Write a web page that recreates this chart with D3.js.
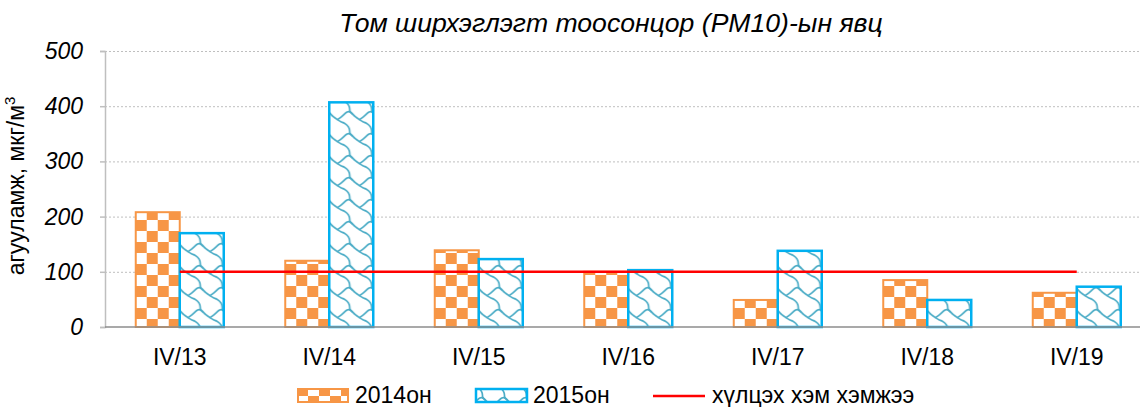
<html lang="mn">
<head>
<meta charset="UTF-8">
<title>PM10</title>
<style>
  body { margin: 0; background: #fff; }
  text { font-family: "Liberation Sans", Arial, sans-serif; fill: #000; }
  .grid { stroke: #bfbfbf; stroke-width: 1px; stroke-dasharray: 2 2; }
  .tick-label { font-style: italic; font-size: 23px; text-anchor: end; }
  .cat-label { font-size: 23px; text-anchor: middle; }
  .legend text { font-size: 23px; }
</style>
</head>
<body>
<script src="https://cdnjs.cloudflare.com/ajax/libs/d3/7.8.5/d3.min.js"></script>
<script>

var categories = ["IV/13", "IV/14", "IV/15", "IV/16", "IV/17", "IV/18", "IV/19"];
var series = ["2014он", "2015он"];
var values2014 = [208, 120, 139, 100, 49, 85, 62];
var values2015 = [170, 407, 123, 103, 138, 49, 73];
var limitValue = 100;
var limitLabel = "хүлцэх хэм хэмжээ";
var yTicks = [0, 100, 200, 300, 400, 500];
var title = "Том ширхэглэгт тоосонцор (PM10)-ын явц";
var yLabel = "агууламж, мкг/м";

var width = 1144, height = 407;
var plotLeft = 105, plotRight = 1140, plotTop = 51, plotBottom = 327;
var step = 149.5;

var svg = d3.select("body").append("svg")
  .attr("width", width)
  .attr("height", height);

var defs = svg.append("defs");

// large checkerboard (8x8 cell pattern scaled up), 2014
var cell = 2.75;
var chk = defs.append("pattern")
  .attr("id", "checker")
  .attr("patternUnits", "userSpaceOnUse")
  .attr("width", 8 * cell).attr("height", 8 * cell);
chk.append("rect").attr("width", 8 * cell).attr("height", 8 * cell).attr("fill", "#fff");
chk.append("rect").attr("width", 4 * cell).attr("height", 4 * cell).attr("fill", "#f79646");
chk.append("rect").attr("x", 4 * cell).attr("y", 4 * cell)
  .attr("width", 4 * cell).attr("height", 4 * cell).attr("fill", "#f79646");

// shingle pattern, 2015
var sh = defs.append("pattern")
  .attr("id", "shingle")
  .attr("patternUnits", "userSpaceOnUse")
  .attr("width", 8 * cell).attr("height", 8 * cell);
sh.append("rect").attr("width", 8 * cell).attr("height", 8 * cell).attr("fill", "#fff");

var shingleA = [[-0.5, 0.5], [0.5, 1.5], [1.5, 2.5], [3, 3.5], [4.5, 4.5], [5.5, 4.7], [6.5, 5.5], [7.4, 6.6], [7.5, 8.5]];
var shingleB = [[3, 3.5], [4.5, 2.5], [5.5, 1.5], [6.5, 0.6], [7.5, 0.5], [8.5, 1.5]];
var shLine = d3.line()
  .x(function(p){ return p[0] * cell; })
  .y(function(p){ return p[1] * cell; })
  .curve(d3.curveBasis);
[-8, 0, 8].forEach(function(dx){
  [-8, 0, 8].forEach(function(dy){
    [shingleA, shingleB].forEach(function(pts){
      sh.append("path")
        .attr("d", shLine(pts.map(function(p){ return [p[0] + dx, p[1] + dy]; })))
        .attr("fill", "none")
        .attr("stroke", "#4bacc6")
        .attr("stroke-width", 1.7)
        .attr("stroke-linecap", "round");
    });
  });
});

var x = d3.scaleBand()
  .domain(categories)
  .range([plotLeft, plotLeft + step * categories.length])
  .paddingInner(61.5 / step)
  .paddingOuter(30.75 / step);

var xs = d3.scaleBand()
  .domain(series)
  .range([0, x.bandwidth()]);

var y = d3.scaleLinear()
  .domain([0, 500])
  .range([plotBottom, plotTop]);

// grid lines
svg.append("g").selectAll("line")
  .data(yTicks.slice(1))
  .enter().append("line")
  .attr("class", "grid")
  .attr("x1", plotLeft).attr("x2", plotRight)
  .attr("y1", function(d){ return y(d) + 0.5; })
  .attr("y2", function(d){ return y(d) + 0.5; });

// y axis
var yAxis = svg.append("g")
  .attr("transform", "translate(" + plotLeft + ",0)")
  .call(d3.axisLeft(y).tickValues(yTicks).tickSize(5).tickFormat(""));
yAxis.select(".domain").attr("stroke", "#bfbfbf").attr("stroke-width", 1.5);
yAxis.selectAll(".tick line").attr("stroke", "#bfbfbf").attr("stroke-width", 1.5);

svg.append("g").selectAll("text")
  .data(yTicks)
  .enter().append("text")
  .attr("class", "tick-label")
  .attr("x", plotLeft - 22)
  .attr("y", function(d){ return y(d); })
  .attr("dy", "0.35em")
  .text(function(d){ return d; });

// bars
var rows = categories.map(function(c, i){
  return [
    { cat: c, s: series[0], v: values2014[i] },
    { cat: c, s: series[1], v: values2015[i] }
  ];
});

var groups = svg.append("g").selectAll("g")
  .data(rows)
  .enter().append("g")
  .attr("transform", function(d){ return "translate(" + x(d[0].cat) + ",0)"; });

groups.selectAll("rect")
  .data(function(d){ return d; })
  .enter().append("rect")
  .attr("x", function(d){ return xs(d.s); })
  .attr("y", function(d){ return y(d.v); })
  .attr("width", xs.bandwidth())
  .attr("height", function(d){ return y(0) - y(d.v); })
  .attr("fill", function(d){ return d.s === series[0] ? "url(#checker)" : "url(#shingle)"; })
  .attr("stroke", function(d){ return d.s === series[0] ? "#f79646" : "#00b0f0"; })
  .attr("stroke-width", function(d){ return d.s === series[0] ? 2 : 2.5; });

// x axis line
svg.append("line")
  .attr("x1", plotLeft).attr("x2", plotRight)
  .attr("y1", plotBottom).attr("y2", plotBottom)
  .attr("stroke", "#8c8c8c").attr("stroke-width", 1.5);

// limit line
var first = categories[0], last = categories[categories.length - 1];
svg.append("line")
  .attr("x1", x(first) + x.bandwidth() / 2)
  .attr("x2", x(last) + x.bandwidth() / 2)
  .attr("y1", y(limitValue)).attr("y2", y(limitValue))
  .attr("stroke", "#ff0000").attr("stroke-width", 2.5);

// category labels
svg.append("g").selectAll("text")
  .data(categories)
  .enter().append("text")
  .attr("class", "cat-label")
  .attr("x", function(d){ return x(d) + x.bandwidth() / 2; })
  .attr("y", 365)
  .text(function(d){ return d; });

// title
svg.append("text")
  .attr("x", 611).attr("y", 32)
  .attr("text-anchor", "middle")
  .style("font-style", "italic")
  .style("font-size", "26.6px")
  .text(title);

// y label with superscript
var yl = svg.append("text")
  .attr("transform", "translate(24,186) rotate(-90)")
  .attr("text-anchor", "middle")
  .style("font-size", "23px");
yl.append("tspan").text(yLabel);
yl.append("tspan").attr("dy", -9).style("font-size", "15px").text("3");

// legend
var legend = svg.append("g").attr("class", "legend");
legend.append("rect")
  .attr("x", 298).attr("y", 389).attr("width", 50).attr("height", 13)
  .attr("fill", "url(#checker)").attr("stroke", "#f79646").attr("stroke-width", 2);
legend.append("text").attr("x", 355).attr("y", 403).text(series[0]);
legend.append("rect")
  .attr("x", 476).attr("y", 389).attr("width", 51).attr("height", 13)
  .attr("fill", "url(#shingle)").attr("stroke", "#00b0f0").attr("stroke-width", 2.5);
legend.append("text").attr("x", 533).attr("y", 403).text(series[1]);
legend.append("line")
  .attr("x1", 653).attr("x2", 705).attr("y1", 396).attr("y2", 396)
  .attr("stroke", "#ff0000").attr("stroke-width", 2.5);
legend.append("text").attr("x", 712).attr("y", 403).text(limitLabel);

</script>
</body>
</html>
